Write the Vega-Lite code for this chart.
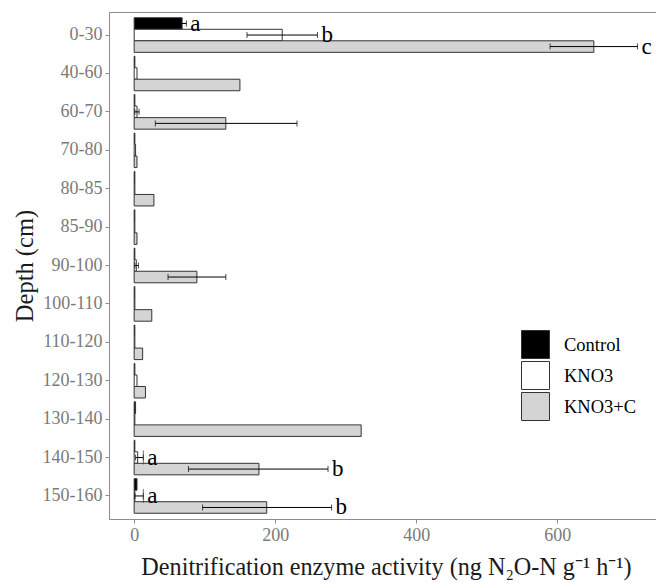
{
  "$schema": "https://vega.github.io/schema/vega-lite/v6.json",
  "width": 547,
  "height": 507,
  "autosize": {"type": "none"},
  "padding": {"left": 109, "top": 12, "right": 0, "bottom": 64},
  "background": "white",
  "config": {
    "view": {"stroke": "#8c8c8c", "strokeWidth": 1},
    "font": "Liberation Serif",
    "legend": {"padding": 0}
  },
  "data": {
    "values": [
      {"d": "0-30", "t": "Control", "v": 68, "lo": 62, "hi": 74, "lab": "a"},
      {"d": "0-30", "t": "KNO3", "v": 210, "lo": 160, "hi": 260, "lab": "b"},
      {"d": "0-30", "t": "KNO3+C", "v": 652, "lo": 590, "hi": 714, "lab": "c"},
      {"d": "40-60", "t": "Control", "v": 1},
      {"d": "40-60", "t": "KNO3", "v": 4},
      {"d": "40-60", "t": "KNO3+C", "v": 150},
      {"d": "60-70", "t": "Control", "v": 1},
      {"d": "60-70", "t": "KNO3", "v": 4, "lo": 1, "hi": 7},
      {"d": "60-70", "t": "KNO3+C", "v": 130, "lo": 30, "hi": 231},
      {"d": "70-80", "t": "Control", "v": 1},
      {"d": "70-80", "t": "KNO3", "v": 2},
      {"d": "70-80", "t": "KNO3+C", "v": 4},
      {"d": "80-85", "t": "Control", "v": 1},
      {"d": "80-85", "t": "KNO3", "v": 1},
      {"d": "80-85", "t": "KNO3+C", "v": 28},
      {"d": "85-90", "t": "Control", "v": 1},
      {"d": "85-90", "t": "KNO3", "v": 1},
      {"d": "85-90", "t": "KNO3+C", "v": 4},
      {"d": "90-100", "t": "Control", "v": 1},
      {"d": "90-100", "t": "KNO3", "v": 3, "lo": 1, "hi": 6},
      {"d": "90-100", "t": "KNO3+C", "v": 89, "lo": 48, "hi": 130},
      {"d": "100-110", "t": "Control", "v": 1},
      {"d": "100-110", "t": "KNO3", "v": 1},
      {"d": "100-110", "t": "KNO3+C", "v": 25},
      {"d": "110-120", "t": "Control", "v": 1},
      {"d": "110-120", "t": "KNO3", "v": 1},
      {"d": "110-120", "t": "KNO3+C", "v": 12},
      {"d": "120-130", "t": "Control", "v": 1},
      {"d": "120-130", "t": "KNO3", "v": 4},
      {"d": "120-130", "t": "KNO3+C", "v": 16},
      {"d": "130-140", "t": "Control", "v": 2},
      {"d": "130-140", "t": "KNO3", "v": 1},
      {"d": "130-140", "t": "KNO3+C", "v": 322},
      {"d": "140-150", "t": "Control", "v": 1},
      {"d": "140-150", "t": "KNO3", "v": 5, "lo": 2, "hi": 13, "lab": "a"},
      {"d": "140-150", "t": "KNO3+C", "v": 177, "lo": 77, "hi": 275, "lab": "b"},
      {"d": "150-160", "t": "Control", "v": 4},
      {"d": "150-160", "t": "KNO3", "v": 1, "lo": 1, "hi": 13, "lab": "a"},
      {"d": "150-160", "t": "KNO3+C", "v": 188, "lo": 97, "hi": 280, "lab": "b"}
    ]
  },
  "encoding": {
    "y": {
      "field": "d",
      "type": "nominal",
      "sort": ["0-30", "40-60", "60-70", "70-80", "80-85", "85-90", "90-100", "100-110", "110-120", "120-130", "130-140", "140-150", "150-160"],
      "scale": {"paddingInner": 0.1, "paddingOuter": 0.15},
      "axis": {
        "title": "Depth (cm)",
        "titleFont": "Liberation Serif",
        "titleFontSize": 24.5,
        "titleFontWeight": "normal",
        "titleColor": "#1a1a1a",
        "titleX": -84,
        "titleY": 253.5,
        "titleAngle": 270,
        "titleAlign": "center",
        "titleBaseline": "middle",
        "labelFont": "Liberation Serif",
        "labelFontSize": 18,
        "labelColor": "#7a7a7a",
        "labelPadding": 3,
        "tickColor": "#8c8c8c",
        "tickSize": 4,
        "domain": false,
        "grid": false
      }
    },
    "yOffset": {
      "field": "t",
      "type": "nominal",
      "sort": ["Control", "KNO3", "KNO3+C"],
      "scale": {"paddingInner": 0, "paddingOuter": 0}
    }
  },
  "layer": [
    {
      "mark": {"type": "bar", "stroke": "#333333", "strokeWidth": 1},
      "encoding": {
        "x": {
          "field": "v",
          "type": "quantitative",
          "scale": {"domain": [-35.7, 740.2], "nice": false, "zero": false},
          "axis": {
            "values": [0, 200, 400, 600],
            "title": "Denitrification enzyme activity (ng N₂O-N g⁻¹ h⁻¹)",
            "titleFont": "Liberation Serif",
            "titleFontSize": 24.2,
            "titleFontWeight": "normal",
            "titleColor": "#1a1a1a",
            "titleX": 277,
            "titleY": 48,
            "titleBaseline": "middle",
            "labelFont": "Liberation Serif",
            "labelFontSize": 18,
            "labelColor": "#7a7a7a",
            "labelPadding": 3,
            "tickColor": "#8c8c8c",
            "tickSize": 4,
            "domain": false,
            "grid": false
          }
        },
        "x2": {"datum": 0},
        "fill": {
          "field": "t",
          "type": "nominal",
          "scale": {"domain": ["Control", "KNO3", "KNO3+C"], "range": ["#000000", "#ffffff", "#d4d4d4"]},
          "legend": {
            "title": null,
            "orient": "none",
            "legendX": 412,
            "legendY": 318,
            "symbolType": "square",
            "symbolSize": 784,
            "symbolStrokeColor": "#333333",
            "symbolStrokeWidth": 1,
            "symbolOpacity": 1,
            "labelFont": "Liberation Serif",
            "labelFontSize": 18.5,
            "labelColor": "#000000",
            "labelOffset": 14,
            "rowPadding": -4
          }
        }
      }
    },
    {
      "transform": [{"filter": "datum.hi != null"}],
      "mark": {"type": "rule", "color": "#000000", "strokeWidth": 1},
      "encoding": {
        "x": {"field": "lo", "type": "quantitative"},
        "x2": {"field": "hi"}
      }
    },
    {
      "transform": [{"filter": "datum.hi != null"}],
      "mark": {"type": "tick", "orient": "vertical", "color": "#000000", "size": 6, "thickness": 1},
      "encoding": {
        "x": {"field": "lo", "type": "quantitative"}
      }
    },
    {
      "transform": [{"filter": "datum.hi != null"}],
      "mark": {"type": "tick", "orient": "vertical", "color": "#000000", "size": 6, "thickness": 1},
      "encoding": {
        "x": {"field": "hi", "type": "quantitative"}
      }
    },
    {
      "transform": [{"filter": "datum.t == 'KNO3' && datum.lab == 'a'"}],
      "mark": {"type": "tick", "orient": "vertical", "color": "#333333", "size": 14, "thickness": 1},
      "encoding": {
        "x": {"field": "hi", "type": "quantitative"}
      }
    },
    {
      "transform": [{"filter": "datum.lab != null"}],
      "mark": {"type": "text", "align": "left", "baseline": "middle", "dx": 4, "font": "Liberation Serif", "fontSize": 23, "color": "#000000"},
      "encoding": {
        "x": {"field": "hi", "type": "quantitative"},
        "text": {"field": "lab"}
      }
    }
  ]
}
